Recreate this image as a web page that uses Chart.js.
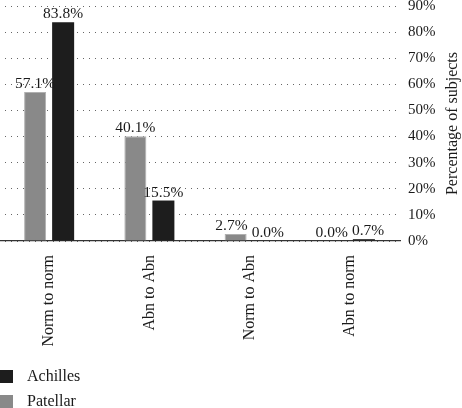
<!DOCTYPE html>
<html>
<head>
<meta charset="utf-8">
<script src="https://cdn.jsdelivr.net/npm/chart.js@4/dist/chart.umd.min.js"></script>
<style>
    html, body { margin: 0; padding: 0; background: #fff; overflow: hidden; }
    #wrap { position: absolute; left: -8px; top: 0; width: 470px; height: 408px; }
</style>
</head>
<body>
<div id="wrap"><canvas id="barChart"></canvas></div>
<script>
// DATA
var categories = ['Norm to norm', 'Abn to Abn', 'Norm to Abn', 'Abn to norm'];
var patellarValues = [57.1, 40.1, 2.7, 0.0];
var achillesValues = [83.8, 15.5, 0.0, 0.7];
var seriesNames = ['Patellar', 'Achilles'];
var yTicks = [0, 10, 20, 30, 40, 50, 60, 70, 80, 90];

var serif = "'Liberation Serif', 'Times New Roman', serif";

// VALUE LABELS ABOVE BARS (pushed apart when two sit at nearly the same height)
var valueLabels = {
    id: 'valueLabels',
    afterDatasetsDraw: function (chart) {
        var ctx = chart.ctx;
        ctx.save();
        ctx.font = '15.5px ' + serif;
        ctx.fillStyle = '#1a1a1a';
        ctx.textAlign = 'center';
        ctx.textBaseline = 'alphabetic';
        var left = chart.getDatasetMeta(0).data;
        var right = chart.getDatasetMeta(1).data;
        for (var j = 0; j < left.length; j++) {
            var t1 = chart.data.datasets[0].data[j].toFixed(1) + '%';
            var t2 = chart.data.datasets[1].data[j].toFixed(1) + '%';
            var w1 = ctx.measureText(t1).width;
            var w2 = ctx.measureText(t2).width;
            var x1 = left[j].x, x2 = right[j].x;
            if (Math.abs(left[j].y - right[j].y) < 14) {
                var overlap = (x1 + w1 / 2) - (x2 - w2 / 2) + 4;
                if (overlap > 0) {
                    x1 -= overlap / 2;
                    x2 += overlap / 2;
                }
            }
            ctx.fillText(t1, x1, left[j].y - 4);
            ctx.fillText(t2, x2, right[j].y - 4);
        }
        ctx.restore();
    }
};

// Y TITLE (reads bottom to top) + LEGEND
var extras = {
    id: 'extras',
    afterDraw: function (chart) {
        var ctx = chart.ctx;
        var area = chart.chartArea;
        ctx.save();
        ctx.fillStyle = '#1a1a1a';
        ctx.font = '16px ' + serif;
        ctx.translate(461, (area.top + area.bottom) / 2);
        ctx.rotate(-Math.PI / 2);
        ctx.textAlign = 'center';
        ctx.textBaseline = 'middle';
        ctx.fillText('Percentage of subjects', 0, 0);
        ctx.restore();

        // legend, Achilles first
        ctx.save();
        ctx.font = '16px ' + serif;
        ctx.textAlign = 'left';
        ctx.textBaseline = 'middle';
        var rowY = [376, 401];
        var order = [1, 0];
        order.forEach(function (di, k) {
            var ds = chart.data.datasets[di];
            ctx.fillStyle = ds.backgroundColor;
            ctx.fillRect(8, rowY[k] - 6, 13, 13);
            ctx.fillStyle = '#1a1a1a';
            ctx.fillText(ds.label, 35, rowY[k] + 1);
        });
        ctx.restore();
    }
};

function initializeBarChart() {
    var barCtx = document.getElementById('barChart').getContext('2d');
    window.barChart = new Chart(barCtx, {
        type: 'bar',
        data: {
            labels: categories,
            datasets: [
                {
                    label: seriesNames[0],
                    data: patellarValues,
                    backgroundColor: '#898989',
                    borderColor: '#b0b0b0',
                    borderWidth: 1
                },
                {
                    label: seriesNames[1],
                    data: achillesValues,
                    backgroundColor: '#1d1d1d',
                    borderColor: '#1d1d1d',
                    borderWidth: 0
                }
            ]
        },
        options: {
            responsive: true,
            maintainAspectRatio: false,
            animation: false,
            categoryPercentage: 0.559,
            barPercentage: 0.786,
            layout: {
                padding: { left: 7, top: 6, right: 0, bottom: 0 }
            },
            plugins: {
                legend: { display: false },
                tooltip: { enabled: false }
            },
            scales: {
                x: {
                    grid: { display: false },
                    border: { display: true, color: '#333', width: 1.2 },
                    ticks: {
                        color: '#1a1a1a',
                        font: { family: serif, size: 16 },
                        minRotation: 90,
                        maxRotation: 90,
                        padding: 6
                    },
                    afterFit: function (scale) {
                        scale.height = 167;
                    }
                },
                y: {
                    position: 'right',
                    min: 0,
                    max: 90,
                    afterBuildTicks: function (scale) {
                        scale.ticks = yTicks.map(function (v) { return { value: v }; });
                    },
                    grid: {
                        color: '#666',
                        lineWidth: 1,
                        drawTicks: false
                    },
                    border: { display: false, dash: [1, 5] },
                    ticks: {
                        color: '#1a1a1a',
                        font: { family: serif, size: 15 },
                        padding: 8,
                        callback: function (value) {
                            return value + '%';
                        }
                    },
                    afterFit: function (scale) {
                        scale.width = 62;
                        scale.paddingTop = 0;
                        scale.paddingBottom = 0;
                    }
                }
            }
        },
        plugins: [valueLabels, extras]
    });
}

initializeBarChart();
</script>
</body>
</html>
